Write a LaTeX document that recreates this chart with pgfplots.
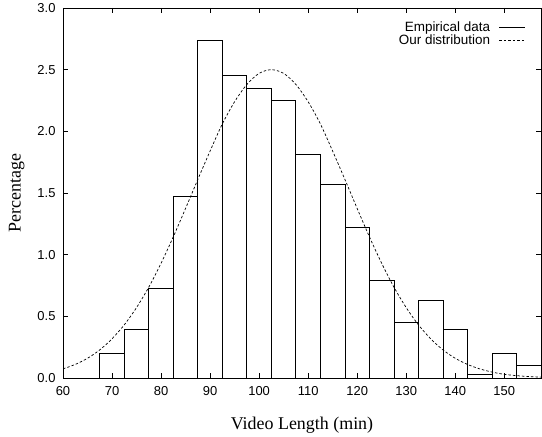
\documentclass[border=0pt]{standalone}
\usepackage{fontspec}
\setmainfont{Liberation Serif}
\setsansfont{Liberation Sans}
\usepackage{pgfplots}
\pgfplotsset{compat=1.18}
\begin{document}
\begin{tikzpicture}
\begin{axis}[
 scale only axis, width=478bp, height=370bp,
 xmin=60, xmax=157.5, ymin=0, ymax=3,
 xtick={60,70,...,150}, ytick={0,0.5,...,3},
 yticklabel style={xshift=-4bp, /pgf/number format/.cd, fixed, fixed zerofill, precision=1},
 xticklabel style={yshift=-5bp},
 /pgf/number format/assume math mode=true,
 tick label style={font=\sffamily\fontsize{13}{15}\selectfont},
 tick align=inside, major tick length=5bp,
 tick style={line width=0.8bp, black},
 axis line style={line width=0.8bp},
 xlabel={Video Length (min)}, ylabel={Percentage},
 label style={font=\fontsize{18}{20}\selectfont},
 xlabel style={at={(axis description cs:0.5,0)}, anchor=base, yshift=-51bp},
 ylabel style={at={(axis description cs:-0.0732,0.5)}, anchor=south},
 legend style={draw=none, fill=none, at={(0.975,0.975)}, anchor=north east,
   font=\sffamily\fontsize{13.5}{14}\selectfont, cells={anchor=east}, row sep=-2bp},
 legend plot pos=right,
 legend image code/.code={\path (0bp,0bp); \draw[#1] (7bp,0bp) -- (33bp,0bp);},
]
\addlegendimage{black, line width=0.8bp}
\addlegendentry{Empirical data}
\addplot[black, dash pattern=on 2.5bp off 2bp, line width=0.7bp, smooth] coordinates {
(60,0.074) (62.5,0.110) (65,0.160) (67.5,0.228) (70,0.318) (72.5,0.431)
(75,0.571) (77.5,0.737) (80,0.930) (82.5,1.145) (85,1.375) (87.5,1.61)
(90,1.84) (92.5,2.06) (95,2.24) (97.5,2.38) (100,2.47) (102.5,2.50)
(105,2.47) (107.5,2.38) (110,2.24) (112.5,2.06) (115,1.84) (117.5,1.61)
(120,1.375) (122.5,1.145) (125,0.930) (127.5,0.737) (130,0.571) (132.5,0.431)
(135,0.318) (137.5,0.228) (140,0.160) (142.5,0.110) (145,0.074) (147.5,0.048)
(150,0.030) (152.5,0.019) (155,0.012) (157.5,0.007)};
\addlegendentry{Our distribution}
\addplot[ybar interval, draw=black, fill=none, line width=0.8bp, forget plot] coordinates {
(67.5,0.20) (72.5,0.39) (77.5,0.73) (82.5,1.47) (87.5,2.74) (92.5,2.45)
(97.5,2.35) (102.5,2.25) (107.5,1.81) (112.5,1.57) (117.5,1.22) (122.5,0.79)
(127.5,0.45) (132.5,0.63) (137.5,0.39) (142.5,0.03) (147.5,0.20) (152.5,0.10)
(157.5,0.10)};
\end{axis}
\path (current axis.south west) ++(-63bp,-57bp) -- (current axis.north east) ++(1bp,8bp);
\end{tikzpicture}
\end{document}
